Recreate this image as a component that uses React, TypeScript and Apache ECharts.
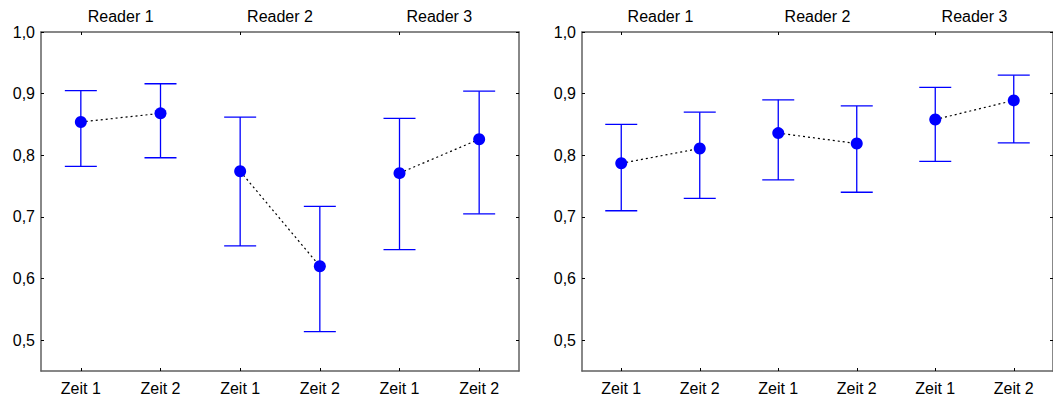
import React, { useEffect, useRef } from "react";
import * as echarts from "echarts";

const readers = ["Reader 1", "Reader 2", "Reader 3"];
const times = ["Zeit 1", "Zeit 2"];
const yTicks = [0.5, 0.6, 0.7, 0.8, 0.9, 1.0];
const yMin = 0.45;
const yMax = 1.0;

const leftMeans = [0.854, 0.868, 0.774, 0.62, 0.771, 0.826];
const leftLow = [0.782, 0.796, 0.653, 0.514, 0.647, 0.705];
const leftHigh = [0.905, 0.916, 0.862, 0.717, 0.86, 0.904];

const rightMeans = [0.787, 0.811, 0.836, 0.819, 0.858, 0.889];
const rightLow = [0.71, 0.73, 0.76, 0.74, 0.79, 0.82];
const rightHigh = [0.85, 0.87, 0.89, 0.88, 0.91, 0.93];

const categories: string[] = [];
readers.forEach((r) => times.forEach((t) => categories.push(r + "|" + t)));

const FONT = "'Liberation Sans', Arial, sans-serif";
const AXIS_COLOR = "#606060";
const BLUE = "#0000ff";

function buildPanel(gi: number, means: number[], low: number[], high: number[]) {
  const xAxes = [
    {
      type: "category",
      gridIndex: gi,
      position: "bottom",
      data: categories,
      boundaryGap: true,
      axisLine: { show: true, lineStyle: { color: AXIS_COLOR, width: 1.5 } },
      axisTick: { show: true, inside: true, alignWithLabel: true, length: 3, lineStyle: { color: "#000" } },
      axisLabel: {
        show: true,
        margin: 9,
        color: "#000",
        fontSize: 16,
        fontFamily: FONT,
        formatter: (v: string) => v.split("|")[1],
      },
      splitLine: { show: false },
    },
    {
      type: "category",
      gridIndex: gi,
      position: "top",
      data: readers,
      boundaryGap: true,
      axisLine: { show: true, lineStyle: { color: AXIS_COLOR, width: 1.5 } },
      axisTick: { show: false },
      axisLabel: { show: true, margin: 8, color: "#000", fontSize: 16, fontFamily: FONT },
      splitLine: { show: false },
    },
    {
      type: "category",
      gridIndex: gi,
      position: "top",
      data: categories,
      boundaryGap: true,
      axisLine: { show: false },
      axisTick: { show: true, inside: true, alignWithLabel: true, length: 3, lineStyle: { color: "#000" } },
      axisLabel: { show: false },
      splitLine: { show: false },
    },
  ];
  const yAxes = [
    {
      type: "value",
      gridIndex: gi,
      position: "left",
      min: yMin,
      max: yMax,
      axisLine: { show: true, lineStyle: { color: AXIS_COLOR, width: 1.5 } },
      axisTick: { show: true, inside: true, length: 3, customValues: yTicks, lineStyle: { color: "#000" } },
      axisLabel: {
        show: true,
        margin: 6,
        color: "#000",
        fontSize: 16,
        fontFamily: FONT,
        customValues: yTicks,
        formatter: (v: number) => v.toFixed(1).replace(".", ","),
      },
      splitLine: { show: false },
    },
    {
      type: "value",
      gridIndex: gi,
      position: "right",
      min: yMin,
      max: yMax,
      axisLine: { show: true, lineStyle: { color: AXIS_COLOR, width: 1.5 } },
      axisTick: { show: true, inside: true, length: 3, customValues: yTicks, lineStyle: { color: "#000" } },
      axisLabel: { show: false },
      splitLine: { show: false },
    },
  ];
  const xIdx = gi * 3;
  const yIdx = gi * 2;
  const series: any[] = [];
  series.push({
    type: "custom",
    xAxisIndex: xIdx,
    yAxisIndex: yIdx,
    encode: { x: 0, y: [1, 2] },
    data: means.map((_, i) => [i, low[i], high[i]]),
    renderItem: (params: any, api: any) => {
      const x = api.value(0);
      const pLo = api.coord([x, api.value(1)]);
      const pHi = api.coord([x, api.value(2)]);
      const hw = 16;
      const style = { stroke: BLUE, lineWidth: 1.3 };
      return {
        type: "group",
        children: [
          { type: "line", shape: { x1: pLo[0], y1: pLo[1], x2: pHi[0], y2: pHi[1] }, style },
          { type: "line", shape: { x1: pLo[0] - hw, y1: pLo[1], x2: pLo[0] + hw, y2: pLo[1] }, style },
          { type: "line", shape: { x1: pHi[0] - hw, y1: pHi[1], x2: pHi[0] + hw, y2: pHi[1] }, style },
        ],
      };
    },
    z: 2,
  });
  for (let p = 0; p < readers.length; p++) {
    series.push({
      type: "line",
      xAxisIndex: xIdx,
      yAxisIndex: yIdx,
      data: [
        [2 * p, means[2 * p]],
        [2 * p + 1, means[2 * p + 1]],
      ],
      symbol: "none",
      lineStyle: { color: "#000", width: 1.2, type: [2, 3] },
      z: 3,
    });
  }
  series.push({
    type: "scatter",
    xAxisIndex: xIdx,
    yAxisIndex: yIdx,
    data: means.map((m, i) => [i, m]),
    symbol: "circle",
    symbolSize: 12,
    itemStyle: { color: BLUE, opacity: 1 },
    z: 4,
  });
  return { xAxes, yAxes, series };
}

export default function App() {
  const ref = useRef<HTMLDivElement>(null);
  useEffect(() => {
    if (!ref.current) return;
    const chart = echarts.init(ref.current, null, { renderer: "svg" });
    const a = buildPanel(0, leftMeans, leftLow, leftHigh);
    const b = buildPanel(1, rightMeans, rightLow, rightHigh);
    chart.setOption({
      animation: false,
      backgroundColor: "#fff",
      grid: [
        { left: 41, top: 32, width: 478, height: 339 },
        { left: 582, top: 32, width: 478, height: 339 },
      ],
      xAxis: [...a.xAxes, ...b.xAxes],
      yAxis: [...a.yAxes, ...b.yAxes],
      series: [...a.series, ...b.series],
    });
    return () => chart.dispose();
  }, []);
  return (
    <div
      ref={ref}
      style={{ position: "absolute", left: 0, top: 0, width: 1053, height: 396 }}
    />
  );
}
